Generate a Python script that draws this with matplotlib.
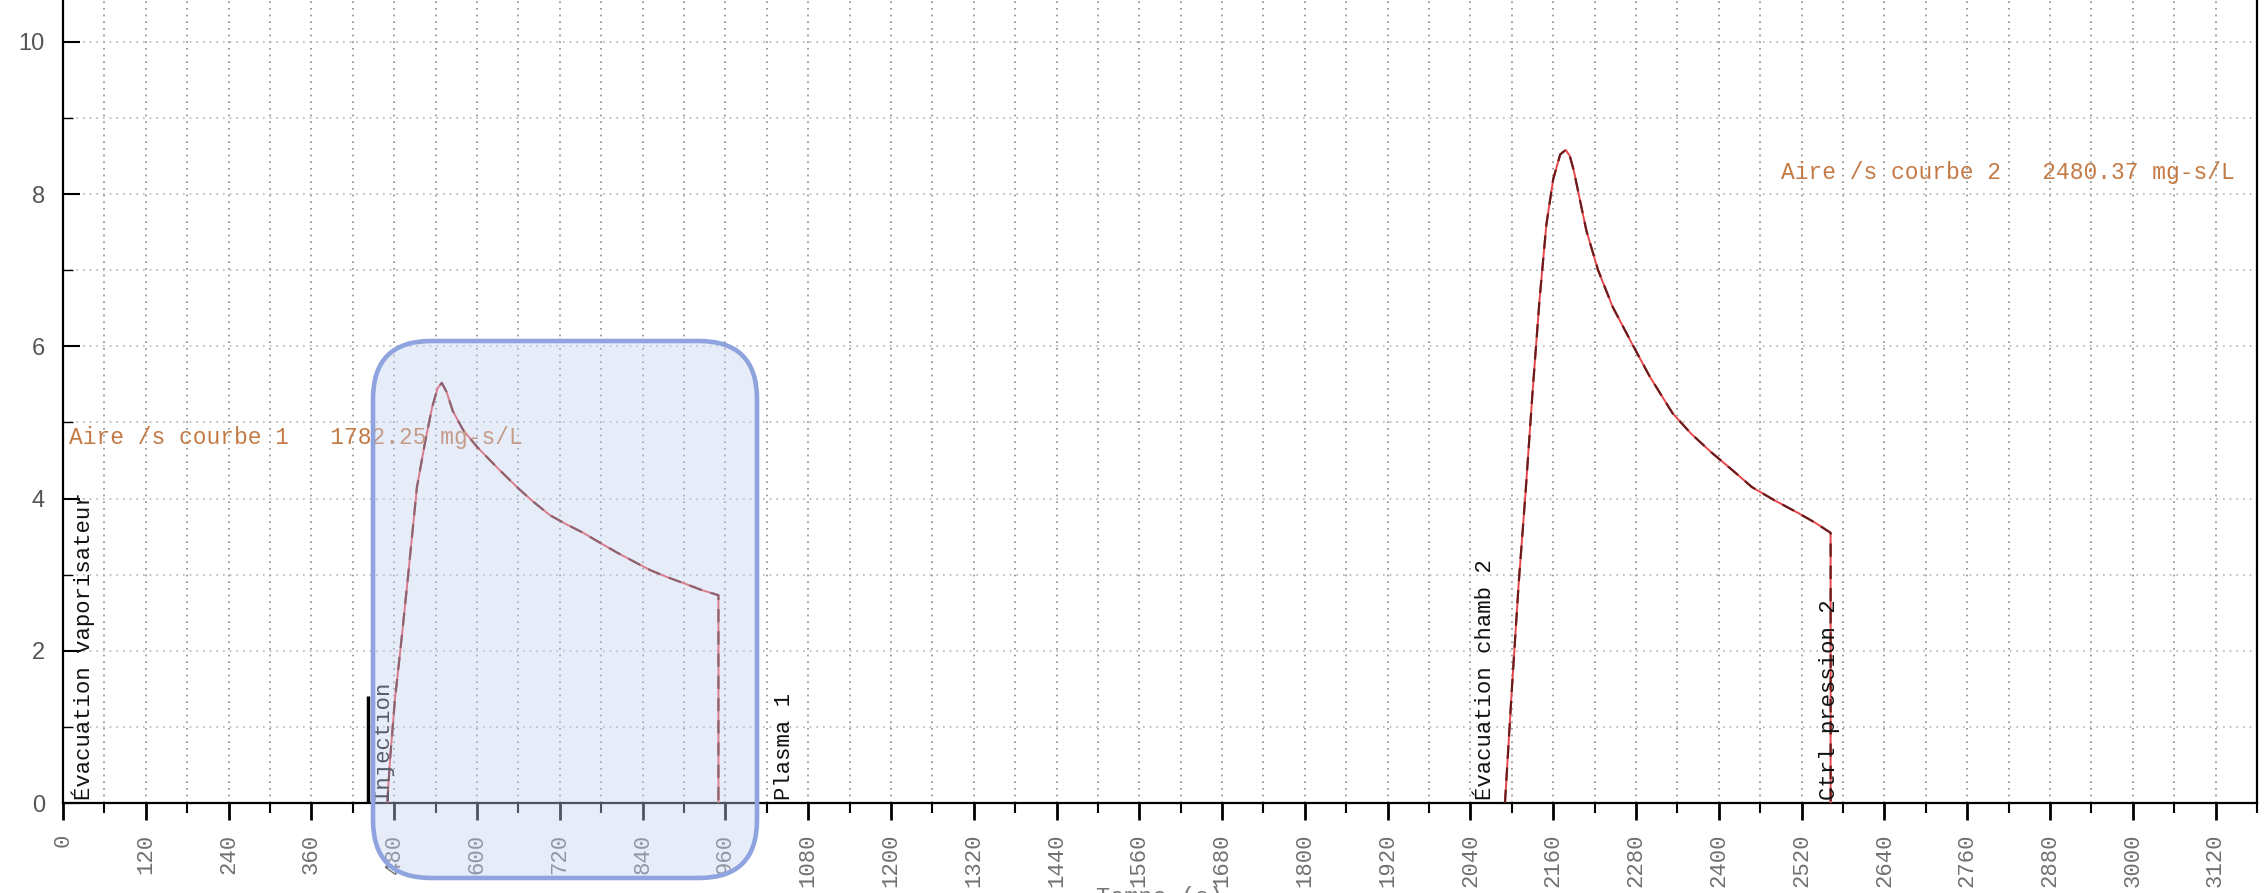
import matplotlib
matplotlib.use("Agg")
import matplotlib.pyplot as plt
from matplotlib.patches import FancyBboxPatch
from matplotlib.transforms import IdentityTransform
from matplotlib.ticker import MultipleLocator

# courbe 1 (temps en s, concentration)
t1 = [470, 474, 481, 491, 500, 513, 525, 535, 543, 549, 556, 565, 580, 600, 630, 658, 680, 706,
      730, 754, 780, 803, 830, 851, 875, 899, 925, 950, 950]
c1 = [0.0, 0.57, 1.35, 2.18, 2.97, 4.15, 4.75, 5.2, 5.45, 5.52, 5.4, 5.15, 4.9, 4.68, 4.4, 4.15, 3.97, 3.78,
      3.66, 3.55, 3.41, 3.29, 3.16, 3.06, 2.97, 2.89, 2.8, 2.73, 0.0]

# courbe 2
t2 = [2090, 2100, 2110, 2120, 2130, 2140, 2150, 2160, 2170, 2178, 2184, 2190, 2198, 2208, 2225, 2246,
      2275, 2300, 2333, 2360, 2390, 2420, 2448, 2480, 2515, 2540, 2562, 2562]
c2 = [0.0, 1.5, 2.9, 4.1, 5.4, 6.6, 7.6, 8.2, 8.52, 8.58, 8.5, 8.3, 7.95, 7.52, 7.0, 6.52,
      6.02, 5.6, 5.12, 4.85, 4.6, 4.37, 4.15, 3.98, 3.81, 3.68, 3.55, 0.0]

# evenements
event_t = [13, 448, 1030, 2046, 2545]
event_labels = ["Évacuation vaporisateur", "Injection", "Plasma 1", "Évacuation chamb 2", "Ctrl pression 2"]
marker_t = 442
marker_h = 1.4

area_labels = ["Aire /s courbe 1   1782.25 mg-s/L", "Aire /s courbe 2   2480.37 mg-s/L"]
area_pos = [(9, 4.8), (2490, 8.28)]

mono = "Liberation Mono"

fig = plt.figure(figsize=(22.65, 8.93), dpi=100)
ax = fig.add_axes([63 / 2265, 90 / 893, (2257 - 63) / 2265, 1 - 90 / 893])

ax.set_xlim(0, 3180)
ax.set_ylim(0, 10.55)

ax.xaxis.set_major_locator(MultipleLocator(120))
ax.xaxis.set_minor_locator(MultipleLocator(60))
ax.yaxis.set_major_locator(MultipleLocator(2))
ax.yaxis.set_minor_locator(MultipleLocator(1))

ax.grid(True, which="both", axis="x", linestyle=(0, (1, 3)), color="#8a8a8a", lw=1.2)
ax.grid(True, which="both", axis="y", linestyle=(0, (1, 3)), color="#b5b5b5", lw=1.2)

ax.tick_params(axis="x", which="major", direction="out", length=12, width=2, pad=10)
ax.tick_params(axis="x", which="minor", direction="out", length=7, width=1.5)
ax.tick_params(axis="y", which="major", direction="in", length=12, width=1.5, pad=13)
ax.tick_params(axis="y", which="minor", direction="in", length=7, width=1)

for lab in ax.get_xticklabels():
    lab.set_rotation(90)
    lab.set_fontfamily(mono)
    lab.set_fontsize(16)
    lab.set_color("#707070")
    lab.set_va("top")
for lab in ax.get_yticklabels():
    lab.set_fontfamily("Liberation Sans")
    lab.set_fontsize(17)
    lab.set_color("#555555")

for s in ["left", "bottom", "right"]:
    ax.spines[s].set_linewidth(1.6)
    ax.spines[s].set_color("black")
ax.spines["top"].set_visible(False)

# courbes
for t, c in [(t1, c1), (t2, c2)]:
    ax.plot(t, c, color="#e8474a", lw=1.4, zorder=3)
    ax.plot(t, c, color="#6a1c1c", lw=1.6, dashes=(6, 4), zorder=4)

# evenements
ax.vlines(marker_t, 0, marker_h, color="black", lw=2.5, zorder=4)
for t, lab in zip(event_t, event_labels):
    ax.text(t, 0.04, lab, rotation=90, ha="left", va="bottom",
            fontfamily=mono, fontsize=16, color="#111111", zorder=5)

for (x, y), lab in zip(area_pos, area_labels):
    ax.text(x, y, lab, fontfamily=mono, fontsize=16.5, color="#c47a45",
            va="center", ha="left", zorder=5)

fig.text(1160 / 2265, 7 / 893, "Temps (s)", fontfamily=mono, fontsize=17,
         color="#777777", ha="center", va="top")

# encadre bleu
box = FancyBboxPatch((373, 893 - 878), 757 - 373, 878 - 341,
                     boxstyle="round,pad=0,rounding_size=58",
                     facecolor=(0.773, 0.816, 0.941, 0.4), edgecolor="#8fa3de",
                     lw=3.3, transform=IdentityTransform(), zorder=10)
fig.add_artist(box)

fig.savefig("out.png", dpi=100, facecolor="white")
